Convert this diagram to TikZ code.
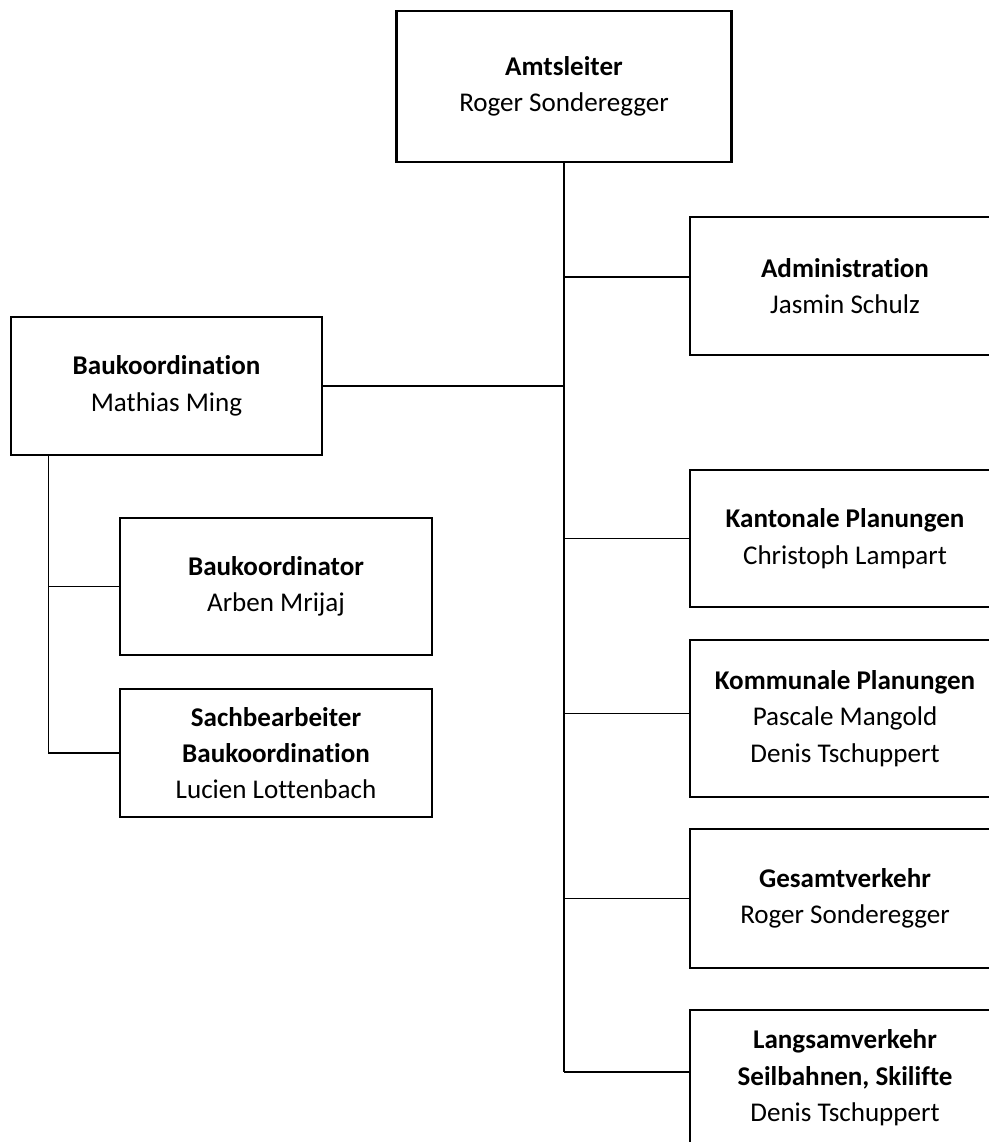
\documentclass[tikz,border=0pt]{standalone}
\usepackage{fontspec}
\setmainfont{Carlito}[Ligatures=NoCommon]
\usepackage{tikz}

\tikzset{
  unit/.style={draw, line width=1.5pt, align=center, inner sep=0pt,
    font=\fontsize{15.4}{20.7}\selectfont},
  link/.style={line width=0.75pt}
}

\begin{document}
\begin{tikzpicture}[x=0.02cm,y=-0.02cm]
 \useasboundingbox (0,0) rectangle (989,1142);
 \clip (0,0) rectangle (989,1142);
 % head
 \node[unit, minimum width=6.7cm, minimum height=3.02cm] (chef) at (564,86.5)
   {\textbf{Amtsleiter}\\Roger Sonderegger};
 % right column
 \node[unit, minimum width=6.2cm, minimum height=2.76cm] (admin) at (845,286)
   {\textbf{Administration}\\Jasmin Schulz};
 \node[unit, minimum width=6.2cm, minimum height=2.74cm] (kanton) at (845,538.5)
   {\textbf{Kantonale Planungen}\\Christoph Lampart};
 \node[unit, minimum width=6.2cm, minimum height=3.14cm] (kommun) at (845,718.5)
   {\textbf{Kommunale Planungen}\\Pascale Mangold\\Denis Tschuppert};
 \node[unit, minimum width=6.2cm, minimum height=2.78cm] (gesamt) at (845,898.5)
   {\textbf{Gesamtverkehr}\\Roger Sonderegger};
 \node[unit, minimum width=6.2cm, minimum height=2.72cm] (langsam) at (845,1078)
   {\textbf{Langsamverkehr}\\\textbf{Seilbahnen, Skilifte}\\Denis Tschuppert};
 % left column
 \node[unit, minimum width=6.22cm, minimum height=2.76cm] (bauko) at (166.5,386)
   {\textbf{Baukoordination}\\Mathias Ming};
 \node[unit, minimum width=6.24cm, minimum height=2.74cm] (bauktor) at (276,586.5)
   {\textbf{Baukoordinator}\\Arben Mrijaj};
 \node[unit, minimum width=6.24cm, minimum height=2.56cm] (sachb) at (276,753)
   {\textbf{Sachbearbeiter}\\\textbf{Baukoordination}\\Lucien Lottenbach};

 % connectors
 \coordinate (adminin) at ([yshift=0.18cm]admin.west);
 \coordinate (kommunin) at ([yshift=0.1cm]kommun.west);
 \coordinate (langsamin) at ([yshift=0.12cm]langsam.west);
 \draw[link] (chef.south) -- (chef.south |- langsamin);
 \draw[link] (chef.south |- adminin) -- (adminin);
 \draw[link] (chef.south |- kanton.west) -- (kanton.west);
 \draw[link] (chef.south |- kommunin) -- (kommunin);
 \draw[link] (chef.south |- gesamt.west) -- (gesamt.west);
 \draw[link] (chef.south |- langsamin) -- (langsamin);
 \draw[link] (bauko.east) -- (bauko.east -| chef.south);
 \coordinate (bkdown) at ([xshift=0.78cm]bauko.south west);
 \draw[link] (bkdown) |- (sachb.west);
 \draw[link] (bkdown |- bauktor.west) -- (bauktor.west);
\end{tikzpicture}
\end{document}
